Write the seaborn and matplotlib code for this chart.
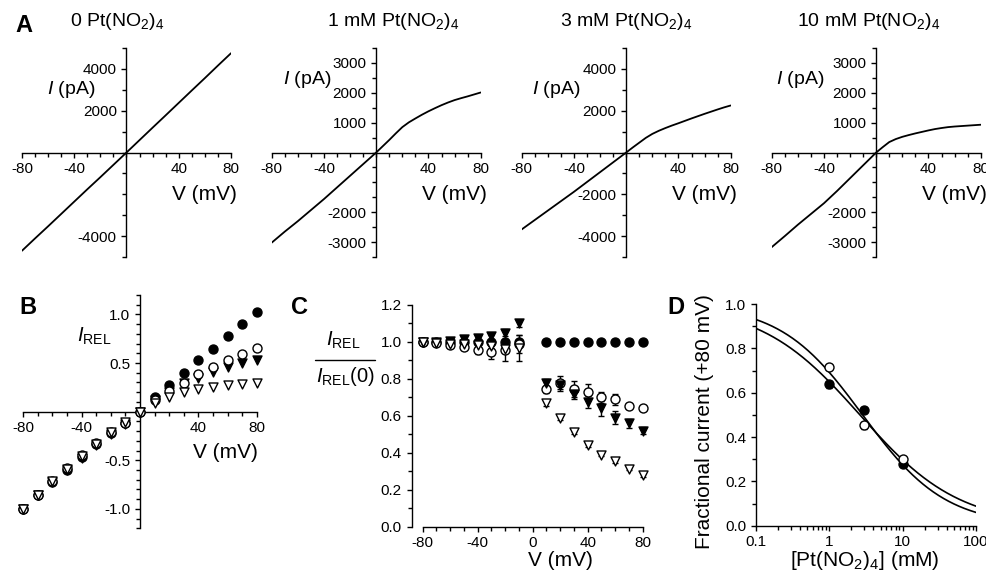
import numpy as np
import matplotlib
matplotlib.use("Agg")
import matplotlib.pyplot as plt
import seaborn as sns
from matplotlib.lines import Line2D
from matplotlib.ticker import MultipleLocator, FixedLocator, FuncFormatter, LogLocator, NullFormatter

sns.set_theme(style="ticks")
plt.rcParams["font.family"] = ["Liberation Sans", "DejaVu Sans"]
plt.rcParams.update({
    "mathtext.fontset": "custom",
    "mathtext.rm": "Liberation Sans",
    "mathtext.it": "Liberation Sans:italic",
    "mathtext.bf": "Liberation Sans:bold",
    "axes.unicode_minus": False,
    "axes.edgecolor": "black",
    "axes.linewidth": 1.0,
    "xtick.color": "black",
    "ytick.color": "black",
    "text.color": "black",
    "xtick.major.width": 1.0,
    "ytick.major.width": 1.0,
    "xtick.minor.width": 1.0,
    "ytick.minor.width": 1.0,
    "xtick.major.size": 3.5,
    "ytick.major.size": 3.5,
    "xtick.minor.size": 3.0,
    "ytick.minor.size": 3.0,
    "xtick.labelsize": 11,
    "ytick.labelsize": 11,
})

# ---------------- data ----------------
# A: current-voltage traces (pA) at four Pt(NO2)4 concentrations
trace_v = [-80, -70, -60, -50, -40, -30, -20, -10, 0,
           5, 10, 15, 20, 25, 30, 35, 40, 45, 50, 55, 60, 65, 70, 75, 80]
i_0mM = [-4700, -4110, -3530, -2940, -2350, -1760, -1180, -590, 0,
         297, 595, 892, 1190, 1485, 1780, 2078, 2375, 2672, 2970, 3265, 3560,
         3860, 4160, 4455, 4750]
i_1mM = [-3020, -2650, -2300, -1930, -1560, -1170, -780, -390, 0,
         210, 420, 640, 850, 1010, 1140, 1265, 1380, 1485, 1585, 1675, 1755,
         1820, 1880, 1945, 2010]
i_3mM = [-3680, -3230, -2780, -2330, -1880, -1410, -940, -470, 0,
         240, 470, 700, 890, 1040, 1170, 1290, 1400, 1515, 1630, 1740, 1850,
         1955, 2060, 2160, 2250]
i_10mM = [-3170, -2800, -2420, -2060, -1700, -1290, -860, -430, 0,
          180, 350, 450, 525, 585, 640, 690, 740, 785, 820, 850, 870,
          885, 900, 915, 930]
trace_titles = [r"0 Pt(NO$_2$)$_4$", r"1 mM Pt(NO$_2$)$_4$",
                r"3 mM Pt(NO$_2$)$_4$", r"10 mM Pt(NO$_2$)$_4$"]

# B: normalised I-V relations
rel_v = [-80, -70, -60, -50, -40, -30, -20, -10, 0, 10, 20, 30, 40, 50, 60, 70, 80]
rel_0mM = [-1.0, -0.86, -0.723, -0.596, -0.465, -0.337, -0.217, -0.114, 0,
           0.148, 0.275, 0.40, 0.527, 0.647, 0.775, 0.905, 1.03]
rel_1mM = [-1.0, -0.856, -0.712, -0.578, -0.444, -0.318, -0.207, -0.113, 0,
           0.115, 0.215, 0.295, 0.385, 0.455, 0.534, 0.595, 0.657]
rel_3mM = [-1.0, -0.86, -0.727, -0.605, -0.474, -0.347, -0.228, -0.125, 0,
           0.12, 0.205, 0.29, 0.345, 0.405, 0.455, 0.50, 0.535]
rel_10mM = [-1.0, -0.856, -0.716, -0.59, -0.458, -0.33, -0.208, -0.11, 0,
            0.09, 0.155, 0.20, 0.23, 0.252, 0.272, 0.28, 0.29]

# C: current relative to control at each voltage (mean, s.e.m.)
ratio_v = [-80, -70, -60, -50, -40, -30, -20, -10, 10, 20, 30, 40, 50, 60, 70, 80]
ratio_0mM = [1.0] * 16
ratio_1mM = [1.0, 0.995, 0.985, 0.97, 0.955, 0.945, 0.955, 0.99,
             0.744, 0.78, 0.745, 0.73, 0.70, 0.69, 0.655, 0.64]
err_1mM = [0.005, 0.01, 0.01, 0.015, 0.02, 0.035, 0.06, 0.05,
           0.02, 0.035, 0.045, 0.04, 0.03, 0.03, 0.01, 0.01]
ratio_3mM = [1.0, 1.0, 1.005, 1.015, 1.02, 1.03, 1.05, 1.10,
             0.78, 0.765, 0.72, 0.675, 0.64, 0.59, 0.56, 0.52]
err_3mM = [0.005, 0.005, 0.01, 0.01, 0.01, 0.015, 0.02, 0.02,
           0.02, 0.03, 0.03, 0.035, 0.04, 0.035, 0.025, 0.02]
ratio_10mM = [1.0, 0.995, 0.99, 0.99, 0.985, 0.98, 0.96, 0.965,
              0.67, 0.59, 0.51, 0.44, 0.39, 0.355, 0.315, 0.28]
err_10mM = [0.005, 0.005, 0.01, 0.01, 0.01, 0.015, 0.02, 0.07,
            0.015, 0.01, 0.01, 0.01, 0.01, 0.01, 0.01, 0.01]

# D: fractional current at +80 mV vs concentration, with Hill fits
conc = [1, 3, 10]
frac_filled = [0.637, 0.522, 0.278]
frac_filled_err = [0.015, 0.015, 0.01]
frac_open = [0.717, 0.452, 0.30]
frac_open_err = [0.01, 0.015, 0.01]
hill_ic50 = [2.61, 2.84]     # filled, open (mM)
hill_n = [0.641, 0.773]

# ---------------- layout helpers ----------------
W, H = 987, 577
fig = plt.figure(figsize=(W / 100, H / 100), dpi=100)


def rect(x0, x1, ytop, ybot):
    return [x0 / W, 1 - ybot / H, (x1 - x0) / W, (ybot - ytop) / H]


def ftext(x, y, s, **kw):
    fig.text(x / W, 1 - y / H, s, **kw)


BIG = 15

# ---------------- A: I-V traces ----------------
a_left = [22, 271.7, 521.7, 771.7]
a_ylim = [5000, 3500, 5000, 3500]
a_ylabels = [[4000, 2000, -4000],
             [3000, 2000, 1000, -2000, -3000],
             [4000, 2000, -2000, -4000],
             [3000, 2000, 1000, -2000, -3000]]
a_yminor = [1000, 500, 1000, 500]
a_traces = [i_0mM, i_1mM, i_3mM, i_10mM]
a_title_x = [117, 393, 626, 869]
a_ilabel = [(47, 90), (283, 79), (532, 90), (776, 79)]

for k in range(4):
    x0 = a_left[k]
    ax = fig.add_axes(rect(x0, x0 + 209, 48, 257))
    sns.lineplot(x=trace_v, y=a_traces[k], color="black", lw=1.3,
                 estimator=None, sort=False, ax=ax)
    ax.set_xlim(-80, 80)
    ax.set_ylim(-a_ylim[k], a_ylim[k])
    ax.spines[["top", "right"]].set_visible(False)
    ax.spines["left"].set_position(("data", 0))
    ax.spines["bottom"].set_position(("data", 0))
    ax.xaxis.set_major_locator(FixedLocator([-80, -40, 40, 80]))
    ax.xaxis.set_minor_locator(MultipleLocator(10))
    ax.yaxis.set_major_locator(FixedLocator(a_ylabels[k]))
    ax.yaxis.set_minor_locator(MultipleLocator(a_yminor[k]))
    ax.set_xlabel("")
    ax.set_ylabel("")
    ax.patch.set_alpha(0)
    ftext(a_title_x[k], 21, trace_titles[k], fontsize=14, ha="center", va="center")
    ftext(a_ilabel[k][0], a_ilabel[k][1], r"$I$ (pA)", fontsize=14, ha="left", va="center")
    ftext(x0 + 215, 194, "V (mV)", fontsize=BIG, ha="right", va="center")

ftext(24, 26, "A", fontsize=17, fontweight="bold", ha="center", va="center")

# ---------------- marker styles ----------------
styles = [
    dict(marker="o", color="black"),
    dict(marker="o", color="white"),
    dict(marker="v", color="black"),
    dict(marker="v", color="white"),
]
MS = 42

# ---------------- B: normalised I-V ----------------
axb = fig.add_axes(rect(23.3, 256.7, 295, 528.3))
for series, st in zip([rel_0mM, rel_3mM, rel_1mM, rel_10mM],
                      [styles[0], styles[2], styles[1], styles[3]]):
    sns.scatterplot(x=rel_v, y=series, marker=st["marker"], color=st["color"],
                    edgecolor="black", linewidth=1.0, s=MS, ax=axb, zorder=3,
                    clip_on=False)
axb.set_xlim(-80, 80)
axb.set_ylim(-1.2, 1.2)
axb.spines[["top", "right"]].set_visible(False)
axb.spines["left"].set_position(("data", 0))
axb.spines["bottom"].set_position(("data", 0))
axb.xaxis.set_major_locator(FixedLocator([-80, -40, 40, 80]))
axb.xaxis.set_minor_locator(MultipleLocator(10))
axb.yaxis.set_major_locator(FixedLocator([1.0, 0.5, -0.5, -1.0]))
axb.yaxis.set_minor_locator(MultipleLocator(0.1))
axb.yaxis.set_major_formatter(FuncFormatter(lambda v, _: f"{v:.1f}"))
axb.set_xlabel("")
axb.set_ylabel("")
axb.patch.set_alpha(0)
ftext(28, 307, "B", fontsize=17, fontweight="bold", ha="center", va="center")
ftext(77, 336, r"$I_{\mathrm{REL}}$", fontsize=14.5, ha="left", va="center")
ftext(258, 452, "V (mV)", fontsize=BIG, ha="right", va="center")

# ---------------- C: relative current ----------------
axc = fig.add_axes(rect(411.7, 648.2, 305, 526.7))
c_series = [(ratio_0mM, None, styles[0]),
            (ratio_1mM, err_1mM, styles[1]),
            (ratio_3mM, err_3mM, styles[2]),
            (ratio_10mM, err_10mM, styles[3])]
for vals, errs, st in c_series:
    if errs is not None:
        axc.errorbar(ratio_v, vals, yerr=errs, fmt="none", ecolor="black",
                     elinewidth=1.0, capsize=2.5, capthick=1.0, zorder=2)
    sns.scatterplot(x=ratio_v, y=vals, marker=st["marker"], color=st["color"],
                    edgecolor="black", linewidth=1.0, s=MS, ax=axc, zorder=3,
                    clip_on=False)
axc.set_xlim(-88, 84)
axc.set_ylim(0, 1.2)
axc.spines[["top", "right"]].set_visible(False)
axc.spines["left"].set_bounds(0, 1.2)
axc.spines["bottom"].set_bounds(-80, 80)
axc.xaxis.set_major_locator(FixedLocator([-80, -40, 0, 40, 80]))
axc.xaxis.set_minor_locator(FixedLocator(list(range(-80, 81, 10))))
axc.yaxis.set_major_locator(MultipleLocator(0.2))
axc.yaxis.set_minor_locator(MultipleLocator(0.1))
axc.yaxis.set_major_formatter(FuncFormatter(lambda v, _: f"{v:.1f}"))
axc.set_xlabel("")
axc.set_ylabel("")
axc.patch.set_alpha(0)
ftext(300, 307, "C", fontsize=17, fontweight="bold", ha="center", va="center")
ftext(343, 340, r"$I_{\mathrm{REL}}$", fontsize=14.5, ha="center", va="center")
fig.add_artist(Line2D([315 / W, 375 / W], [1 - 360 / H, 1 - 360 / H],
                      transform=fig.transFigure, color="black", lw=1.0))
ftext(345, 376, r"$I_{\mathrm{REL}}$(0)", fontsize=14.5, ha="center", va="center")
ftext(560, 561, "V (mV)", fontsize=BIG, ha="center", va="center")

# ---------------- D: concentration dependence ----------------
axd = fig.add_axes(rect(756, 976, 304, 525.7))
fit_x = np.logspace(-1, 2, 300)
for ic50, nh in zip(hill_ic50, hill_n):
    fit_y = 1.0 / (1.0 + (fit_x / ic50) ** nh)
    sns.lineplot(x=fit_x, y=fit_y, color="black", lw=1.2, estimator=None,
                 sort=False, ax=axd)
for vals, errs, st in [(frac_filled, frac_filled_err, styles[0]),
                       (frac_open, frac_open_err, styles[1])]:
    axd.errorbar(conc, vals, yerr=errs, fmt="none", ecolor="black",
                 elinewidth=1.0, capsize=2.5, capthick=1.0, zorder=2)
    sns.scatterplot(x=conc, y=vals, marker=st["marker"], color=st["color"],
                    edgecolor="black", linewidth=1.0, s=MS, ax=axd, zorder=3)
axd.set_xscale("log")
axd.set_xlim(0.1, 100)
axd.set_ylim(0, 1.0)
axd.spines[["top", "right"]].set_visible(False)
axd.xaxis.set_major_locator(FixedLocator([0.1, 1, 10, 100]))
axd.xaxis.set_major_formatter(FuncFormatter(lambda v, _: f"{v:g}"))
axd.xaxis.set_minor_locator(LogLocator(base=10, subs=np.arange(2, 10)))
axd.xaxis.set_minor_formatter(NullFormatter())
axd.yaxis.set_major_locator(MultipleLocator(0.2))
axd.yaxis.set_minor_locator(MultipleLocator(0.1))
axd.yaxis.set_major_formatter(FuncFormatter(lambda v, _: f"{v:.1f}"))
axd.set_xlabel("")
axd.set_ylabel("")
axd.patch.set_alpha(0)
ftext(676, 308, "D", fontsize=17, fontweight="bold", ha="center", va="center")
ftext(705, 422, "Fractional current (+80 mV)", fontsize=BIG, rotation=90,
      ha="center", va="center")
ftext(865, 561, r"[Pt(NO$_2$)$_4$] (mM)", fontsize=BIG, ha="center", va="center")

fig.savefig("out.png", dpi=100)
